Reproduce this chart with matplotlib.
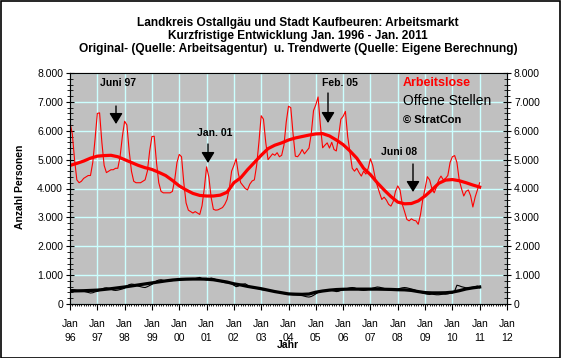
import numpy as np
import matplotlib
matplotlib.use("Agg")
import matplotlib.pyplot as plt
from matplotlib.patches import Rectangle
from matplotlib.ticker import MultipleLocator, FuncFormatter

plt.rcParams['font.family'] = ['Liberation Sans', 'DejaVu Sans']

# ---- data (monthly, Jan 1996 .. Jan 2011) ----
arbeitslose = [
    6270, 5900, 5000, 4300, 4200, 4250, 4350, 4400, 4450, 4450, 4900, 5700,   # 1996
    6600, 6620, 5600, 4800, 4550, 4600, 4650, 4650, 4700, 4700, 5100, 5800,   # 1997
    6330, 6200, 5300, 4600, 4250, 4200, 4200, 4200, 4250, 4300, 4600, 5300,   # 1998
    5800, 5810, 4900, 4200, 3900, 3850, 3850, 3850, 3850, 3900, 4300, 4900,   # 1999
    5180, 5100, 4200, 3500, 3250, 3200, 3150, 3200, 3150, 3100, 3400, 4000,   # 2000
    4750, 4400, 3700, 3280, 3250, 3260, 3300, 3340, 3450, 3620, 4000, 4600,   # 2001
    4800, 5030, 4500, 4200, 4100, 4000, 3950, 4150, 4260, 4300, 4800, 5600,   # 2002
    6520, 6400, 5600, 5000, 5100, 5200, 5150, 5240, 5100, 5150, 5500, 6300,   # 2003
    6850, 6800, 5900, 5120, 5100, 5200, 5350, 5200, 5300, 5400, 5900, 6700,   # 2004
    6900, 7170, 6200, 5410, 5500, 5580, 5400, 5600, 5350, 5300, 5800, 6400,   # 2005
    6500, 6670, 5800, 5240, 4700, 4600, 4700, 4550, 4430, 4600, 4500, 4700,   # 2006
    5030, 4800, 4400, 4100, 3850, 3620, 3700, 3600, 3450, 3390, 3550, 3900,   # 2007
    4090, 3950, 3450, 3200, 2930, 2880, 2950, 2900, 2880, 2760, 3100, 3620,   # 2008
    4000, 4410, 4300, 4000, 3850, 4050, 4300, 4430, 4300, 4350, 4450, 4900,   # 2009
    5100, 5140, 4900, 4300, 4000, 3740, 3900, 3950, 3750, 3360, 3700, 3950,   # 2010
    4200,                                                                       # 2011
]
offene_stellen = [
    480, 500, 490, 470, 460, 450, 440, 420, 400, 380, 390, 420,
    440, 470, 510, 550, 560, 540, 510, 480, 470, 480, 500, 520,
    550, 620, 670, 690, 680, 650, 620, 600, 580, 570, 600, 640,
    680, 740, 800, 830, 840, 820, 800, 790, 800, 810, 830, 850,
    860, 870, 880, 880, 870, 860, 870, 880, 900, 920, 880, 850,
    830, 860, 900, 880, 850, 820, 790, 760, 740, 730, 720, 700,
    650, 600, 620, 680, 690, 700, 650, 600, 570, 560, 540, 530,
    500, 490, 480, 470, 460, 450, 440, 430, 400, 380, 360, 350,
    340, 330, 320, 320, 310, 300, 290, 270, 250, 240, 260, 300,
    350, 400, 430, 450, 460, 480, 480, 470, 450, 430, 440, 470,
    490, 520, 540, 560, 570, 560, 530, 500, 480, 470, 480, 500,
    520, 550, 570, 590, 580, 560, 540, 510, 490, 470, 470, 480,
    510, 540, 560, 570, 560, 540, 520, 500, 470, 440, 410, 380,
    360, 340, 330, 340, 330, 320, 320, 330, 340, 340, 350, 370,
    380, 450, 650, 630, 600, 580, 560, 560, 570, 580, 600, 620,
    560,
]
# quarterly trend values (Jan, Apr, Jul, Oct), Jan 1996 .. Jan 2011
trend_arbeitslose = [
    4800, 4870, 4950, 5050, 5120, 5140, 5150, 5100, 5000, 4900, 4800, 4720,
    4660, 4560, 4450, 4280, 4090, 3950, 3830, 3760, 3740, 3740, 3770, 3870,
    4200, 4370, 4650, 4900, 5150, 5380, 5500, 5580, 5680, 5750, 5800, 5850,
    5890, 5900, 5820, 5680, 5520, 5300, 5050, 4700, 4480, 4200, 3950, 3720,
    3530, 3470, 3480, 3570, 3740, 3950, 4180, 4290, 4310, 4270, 4200, 4120,
    4050,
]
trend_offene = [
    450, 455, 460, 470, 480, 505, 530, 560, 590, 625, 660, 695,
    730, 765, 800, 830, 850, 860, 865, 865, 860, 840, 800, 760,
    700, 660, 610, 570, 530, 480, 430, 390, 350, 340, 335, 345,
    410, 450, 480, 500, 510, 515, 515, 515, 515, 515, 510, 505,
    495, 490, 470, 430, 395, 385, 385, 390, 410, 460, 520, 560,
    590,
]
year_ticks = list(range(1996, 2013))
year_labels = ["Jan\n%02d" % (y % 100) for y in year_ticks]

x_month = 1996 + np.arange(len(arbeitslose)) / 12.0
x_quarter = 1996 + np.arange(len(trend_arbeitslose)) * 3 / 12.0

W, H = 561, 358
fig = plt.figure(figsize=(W / 100, H / 100), dpi=100)
fig.patch.set_facecolor('white')
fig.add_artist(Rectangle((0.5 / W, 0.5 / H), 1 - 1.5 / W, 1 - 1.5 / H, transform=fig.transFigure,
                         fill=False, edgecolor='black', lw=1.2))

L, R, T, B = 70, 507, 73, 304
ax = fig.add_axes([L / W, 1 - B / H, (R - L) / W, (B - T) / H])
ax.set_facecolor('#C0C0C0')
ax.set_xlim(1996, 2012)
ax.set_ylim(0, 8000)

ax.set_xticks(year_ticks)
ax.set_xticklabels(year_labels, linespacing=1.45)
ax.xaxis.set_minor_locator(MultipleLocator(1 / 12))
ax.yaxis.set_major_locator(MultipleLocator(1000))
ax.yaxis.set_minor_locator(MultipleLocator(200))
fmt = FuncFormatter(lambda v, p: ("%d" % v if v == 0 else "{:,.0f}".format(v).replace(",", ".")))
ax.yaxis.set_major_formatter(fmt)
ax.grid(True, which='major', color='#CCFFFF', lw=1.0)
ax.set_axisbelow(True)

ax.tick_params(axis='x', which='major', direction='out', length=4, labelsize=7.5, pad=7, colors='black')
ax.tick_params(axis='x', which='minor', direction='out', length=1.5)
ax.tick_params(axis='y', which='major', direction='inout', length=6, labelsize=7.5, pad=2)
ax.tick_params(axis='y', which='minor', direction='inout', length=4)
for s in ['left', 'bottom', 'right']:
    ax.spines[s].set_color('black')
ax.spines['top'].set_color('#808080')

ax.plot(x_month, arbeitslose, color='#FF0000', lw=0.8)
ax.plot(x_quarter, trend_arbeitslose, color='#FF0000', lw=2.3)
ax.plot(x_month, offene_stellen, color='black', lw=0.8)
ax.plot(x_quarter, trend_offene, color='black', lw=2.3)

ax2 = ax.twinx()
ax2.set_ylim(0, 8000)
ax2.yaxis.set_major_locator(MultipleLocator(1000))
ax2.yaxis.set_minor_locator(MultipleLocator(200))
ax2.yaxis.set_major_formatter(fmt)
ax2.tick_params(axis='y', which='major', direction='inout', length=6, labelsize=7.5, pad=2)
ax2.tick_params(axis='y', which='minor', direction='inout', length=4)

def px2x(px):
    return 1996 + (px - L) / ((R - L) / 16)

def py2y(py):
    return (B - py) / (B - T) * 8000

# annotations with arrows
notes = [("Juni 97", 118, 83, 116, 106, 124),
         ("Jan. 01", 215, 133, 208, 144, 163),
         ("Feb. 05", 340, 83, 328, 93, 123),
         ("Juni 08", 399, 152, 413, 164, 192)]
for txt, tx, ty, axp, y0, y1 in notes:
    ax.text(px2x(tx), py2y(ty), txt, ha='center', va='center', fontsize=7.5, fontweight='bold')
    ax.annotate("", xy=(px2x(axp), py2y(y1)), xytext=(px2x(axp), py2y(y0)),
                arrowprops=dict(arrowstyle='-|>,head_width=0.4,head_length=0.65', color='black',
                                lw=1.0, shrinkA=0, shrinkB=0))

ax.text(px2x(403), py2y(83), "Arbeitslose", color='#FF0000', fontsize=9, fontweight='bold', ha='left', va='center')
ax.text(px2x(403), py2y(101), "Offene Stellen", color='black', fontsize=10, ha='left', va='center')
ax.text(px2x(403), py2y(120), "© StratCon", color='black', fontsize=8, fontweight='bold', ha='left', va='center')

# titles
titles = ["Landkreis Ostallgäu und Stadt Kaufbeuren: Arbeitsmarkt",
          "Kurzfristige Entwicklung Jan. 1996 - Jan. 2011",
          "Original- (Quelle: Arbeitsagentur)  u. Trendwerte (Quelle: Eigene Berechnung)"]
for t, yy in zip(titles, [22.7, 36.0, 49.3]):
    fig.text(298 / W, 1 - yy / H, t, ha='center', va='center', fontsize=8.6, fontweight='bold')

fig.text(20 / W, 1 - 187 / H, "Anzahl Personen", rotation=90, ha='center', va='center',
         fontsize=7.5, fontweight='bold')
fig.text(288 / W, 1 - 345 / H, "Jahr", ha='center', va='center', fontsize=7.5, fontweight='bold')

fig.savefig("out.png", dpi=100)
